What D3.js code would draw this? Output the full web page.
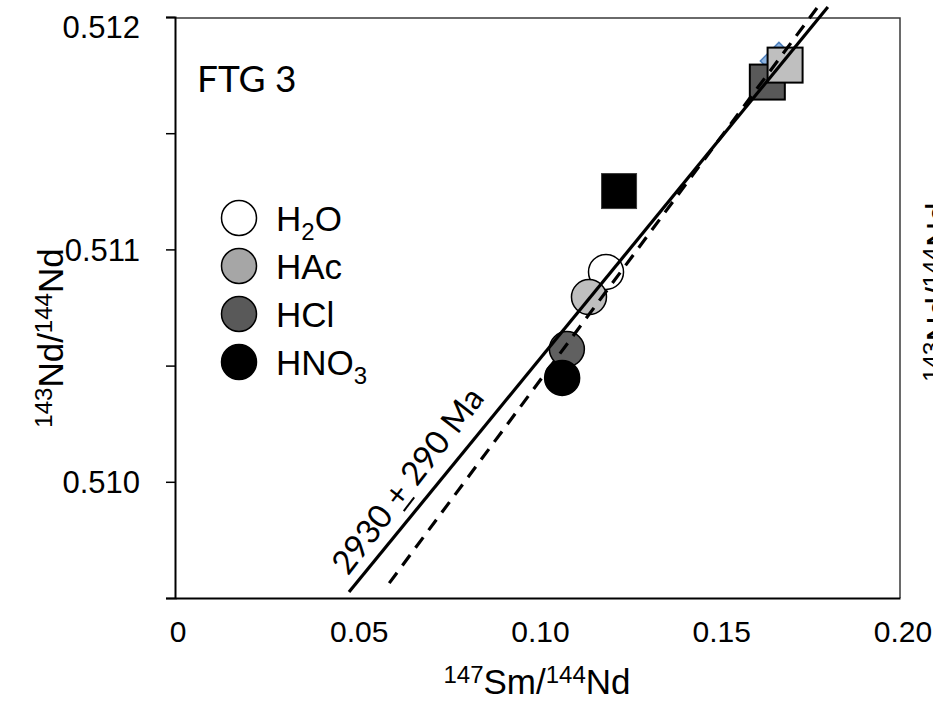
<!DOCTYPE html>
<html>
<head>
<meta charset="utf-8">
<script src="https://cdn.jsdelivr.net/npm/d3@7"></script>
<style>
  html, body { margin: 0; padding: 0; background: #fff; }
  svg { display: block; }
</style>
</head>
<body>
<div id="chart"></div>
<script>
// ---------- data ----------
const xDomain = [0, 0.2];
const yDomain = [0.5095, 0.512];
const xTickValues = [0, 0.05, 0.10, 0.15, 0.20];
const xTickLabels = ["0", "0.05", "0.10", "0.15", "0.20"];
const yMajorTicks = [0.510, 0.511, 0.512];
const yMajorLabels = ["0.510", "0.511", "0.512"];
const yMinorTicks = [0.5095, 0.5105, 0.5115];

// leached fractions (circles)
const circleNames = ["H2O", "HAc", "HCl", "HNO3"];
const circleX = [0.1189, 0.1142, 0.1081, 0.1068];
const circleY = [0.510903, 0.510795, 0.510571, 0.510447];
const circleFill = ["#ffffff", "#bfbfbf", "#606060", "#000000"];

// legend
const legendNames = ["H", "HAc", "HCl", "HNO"];
const legendSubs = ["2", "", "", "3"];
const legendAfter = ["O", "", "", ""];
const legendFill = ["#ffffff", "#a6a6a6", "#595959", "#000000"];

// squares (residues / whole rock)
const squareX = [0.1225, 0.1634, 0.1683];
const squareY = [0.511251, 0.511720, 0.511793];
const squareFill = ["#000000", "#595959", "#bfbfbf"];

// diamond (mostly hidden behind squares)
const diamondX = [0.1666];
const diamondY = [0.511811];

// isochron lines
const solidLineX = [0.048, 0.1801];
const solidLineY = [0.509526, 0.512043];
const dashedLineX = [0.0591, 0.1771];
const dashedLineY = [0.509564, 0.512039];

// annotation
const ageText = "2930 + 290 Ma";
const ageUnderlinedChar = 5;
const ageAnchor = [0.0667, 0.509975];
const ageAngle = -52.3;
const panelTitle = "FTG 3";

// ---------- drawing ----------
const W = 933, H = 711;
const plot = { left: 175, right: 900, top: 17, bottom: 598 };

const svg = d3.select("#chart").append("svg")
  .attr("width", W).attr("height", H)
  .style("background", "#fff");

const x = d3.scaleLinear().domain(xDomain).range([plot.left, plot.right]);
const y = d3.scaleLinear().domain(yDomain).range([plot.bottom, plot.top]);

const sans = "'Liberation Sans', Arial, sans-serif";
const cal = "Lato, 'Open Sans', sans-serif";

// frame top/right
svg.append("path")
  .attr("d", `M${plot.left},${plot.top + 1}H${plot.right}V${plot.bottom}`)
  .attr("fill", "none").attr("stroke", "#3a3a3a").attr("stroke-width", 1.5);

// y axis
const yAxis = d3.axisLeft(y)
  .tickValues(yMajorTicks.concat(yMinorTicks))
  .tickSize(9).tickFormat("");
const gy = svg.append("g").attr("transform", `translate(${plot.left},0)`).call(yAxis);
gy.select(".domain").attr("stroke", "#000").attr("stroke-width", 2);
gy.selectAll(".tick line").attr("stroke", "#000").attr("stroke-width", 1.5);

svg.append("g").selectAll("text").data(yMajorTicks).join("text")
  .attr("x", 140)
  .attr("y", d => Math.max(y(d), 27))
  .attr("dy", "0.36em")
  .attr("text-anchor", "end")
  .attr("font-family", sans).attr("font-size", 31).attr("fill", "#000")
  .text((d, i) => yMajorLabels[i]);

// x axis
const xAxis = d3.axisBottom(x).tickValues(xTickValues).tickSize(0).tickFormat("");
const gx = svg.append("g").attr("transform", `translate(0,${plot.bottom})`).call(xAxis);
gx.select(".domain").attr("stroke", "#000").attr("stroke-width", 2);

svg.append("g").selectAll("text").data(xTickValues).join("text")
  .attr("x", d => x(d) + 3)
  .attr("y", 642)
  .attr("text-anchor", "middle")
  .attr("font-family", sans).attr("font-size", 30).attr("fill", "#000")
  .text((d, i) => xTickLabels[i]);

// axis titles
function isoLabel(sel, parts) {
  let prevSup = false;
  parts.forEach(([t, sup]) => {
    const ts = sel.append("tspan").text(t);
    if (sup) ts.attr("font-size", 24);
    if (sup && !prevSup) ts.attr("dy", -11);
    if (!sup && prevSup) ts.attr("dy", 11);
    prevSup = sup;
  });
}
const xt = svg.append("text")
  .attr("x", 537).attr("y", 694)
  .attr("text-anchor", "middle")
  .attr("font-family", sans).attr("font-size", 35).attr("fill", "#000");
isoLabel(xt, [["147", true], ["Sm/", false], ["144", true], ["Nd", false]]);

const yt = svg.append("text")
  .attr("transform", "translate(63,338) rotate(-90)")
  .attr("text-anchor", "middle")
  .attr("font-family", sans).attr("font-size", 35).attr("fill", "#000");
isoLabel(yt, [["143", true], ["Nd/", false], ["144", true], ["Nd", false]]);

// clipped title of the adjacent panel at the right edge
const yt2 = svg.append("text")
  .attr("transform", "translate(951,292) rotate(-90)")
  .attr("text-anchor", "middle")
  .attr("font-family", sans).attr("font-size", 35).attr("fill", "#000");
isoLabel(yt2, [["143", true], ["Nd/", false], ["144", true], ["Nd", false]]);

// panel title
svg.append("text")
  .attr("x", 197).attr("y", 92)
  .attr("font-family", cal).attr("font-size", 37).attr("fill", "#000")
  .text(panelTitle);

// legend
const legY0 = 218, legStep = 48;
const leg = svg.append("g");
legendNames.forEach((n, i) => {
  const cy = legY0 + i * legStep;
  leg.append("circle").attr("cx", 239).attr("cy", cy).attr("r", 17.5)
    .attr("fill", legendFill[i]).attr("stroke", "#000").attr("stroke-width", 1.5);
  const t = leg.append("text").attr("x", 276).attr("y", cy + 12.5)
    .attr("font-family", sans).attr("font-size", 35).attr("fill", "#000");
  t.append("tspan").text(n);
  if (legendSubs[i]) {
    t.append("tspan").attr("font-size", 24).attr("dy", 9).text(legendSubs[i]);
    if (legendAfter[i]) t.append("tspan").attr("dy", -9).text(legendAfter[i]);
  }
});

// diamond
svg.append("g").selectAll("path").data(diamondX).join("path")
  .attr("d", d3.symbol().type(d3.symbolDiamond2).size(880))
  .attr("transform", (d, i) => `translate(${x(d)},${y(diamondY[i])})`)
  .attr("fill", "#8db4e2").attr("stroke", "#4f81bd").attr("stroke-width", 1.5);

// squares
const sq = 35;
svg.append("g").selectAll("rect").data(squareX).join("rect")
  .attr("x", d => x(d) - sq / 2)
  .attr("y", (d, i) => y(squareY[i]) - sq / 2)
  .attr("width", sq).attr("height", sq)
  .attr("fill", (d, i) => squareFill[i])
  .attr("stroke", (d, i) => i === 0 ? "#3a3a3a" : "#000")
  .attr("stroke-width", (d, i) => i === 0 ? 1 : 2);

// circles
svg.append("g").selectAll("circle").data(circleX).join("circle")
  .attr("cx", d => x(d))
  .attr("cy", (d, i) => y(circleY[i]))
  .attr("r", 17.5)
  .attr("fill", (d, i) => circleFill[i])
  .attr("stroke", "#000").attr("stroke-width", 1.5);

// isochron lines
const line = d3.line().x(d => x(d[0])).y(d => y(d[1]));
svg.append("path")
  .datum(solidLineX.map((v, i) => [v, solidLineY[i]]))
  .attr("d", line).attr("fill", "none")
  .attr("stroke", "#000").attr("stroke-width", 3.2);
svg.append("path")
  .datum(dashedLineX.map((v, i) => [v, dashedLineY[i]]))
  .attr("d", line).attr("fill", "none")
  .attr("stroke", "#000").attr("stroke-width", 3.2)
  .attr("stroke-dasharray", "13,9");

// age annotation
const ag = svg.append("g")
  .attr("transform", `translate(${x(ageAnchor[0])},${y(ageAnchor[1])}) rotate(${ageAngle})`);
const at = ag.append("text")
  .attr("x", 0).attr("y", 0)
  .attr("text-anchor", "middle")
  .attr("font-family", cal).attr("font-size", 33).attr("fill", "#000")
  .text(ageText);
try {
  const ext = at.node().getExtentOfChar(ageUnderlinedChar);
  ag.append("line")
    .attr("x1", ext.x + 1).attr("x2", ext.x + ext.width - 1)
    .attr("y1", 4).attr("y2", 4)
    .attr("stroke", "#000").attr("stroke-width", 2);
} catch (e) {}
</script>
</body>
</html>
